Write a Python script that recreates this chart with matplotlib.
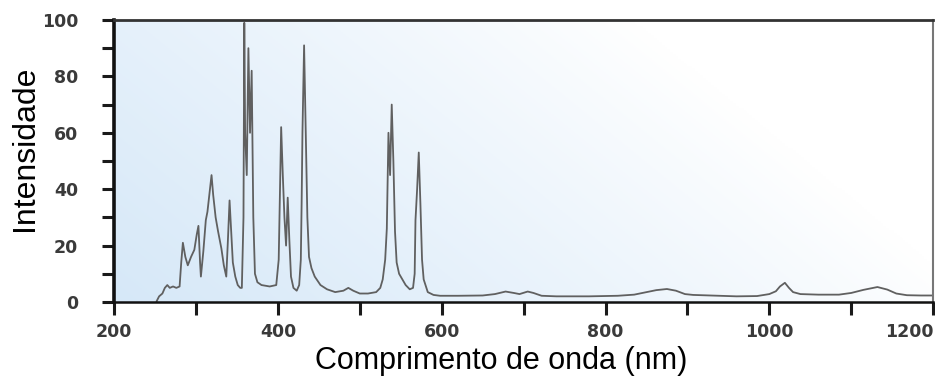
import matplotlib
matplotlib.use("Agg")
import matplotlib.pyplot as plt
import numpy as np

# spectrum (wavelength in nm, relative intensity)
wavelength = [252, 255, 259, 262, 265, 268, 272, 276, 280, 282, 284, 287, 290, 294, 298,
              301, 303, 305, 306, 309, 312, 314, 317, 319, 321, 324, 327, 331, 334, 337,
              339, 341, 343, 345, 348, 351, 354, 356, 358, 359, 360, 362, 364, 366, 368,
              370, 372, 375, 380, 390, 398, 401, 403, 404, 406, 408, 410, 412, 414, 416,
              419, 423, 426, 428, 429, 430, 432, 434, 436, 438, 441, 445, 452, 460, 470,
              480, 486, 492, 500, 510, 520, 525, 528, 531, 533, 535, 537, 539, 541, 543,
              545, 548, 552, 556, 561, 565, 567, 568, 570, 572, 574, 576, 578, 583, 590,
              598, 620, 650, 665, 678, 688, 695, 705, 712, 722, 740, 780, 815, 835, 850,
              862, 875, 886, 897, 907, 930, 960, 985, 1000, 1008, 1013, 1019, 1024, 1029,
              1038, 1060, 1085, 1100, 1115, 1132, 1144, 1155, 1168, 1185, 1200]
intensity = [0.3, 2.0, 3.0, 5.0, 6.0, 5.0, 5.5, 5.0, 5.5, 14, 21, 16, 13, 16, 18.5,
             24, 27, 14, 9, 18, 29, 32, 40, 45, 38, 30, 25, 19, 13, 9,
             22, 36, 25, 14, 9, 6, 5, 5, 30, 99, 60, 45, 90, 60, 82,
             30, 10, 7, 6, 5.5, 6, 15, 45, 62, 45, 30, 20, 37, 22, 9,
             5, 4, 6, 15, 35, 60, 91, 60, 30, 16, 12, 9, 6, 4.5, 3.5,
             4, 5, 4, 3, 3, 3.5, 5, 8, 15, 26, 60, 45, 70, 50, 25,
             14, 10, 8, 6, 4.5, 5, 10, 29, 40, 53, 35, 15, 8, 3.5, 2.5,
             2.2, 2.2, 2.3, 2.8, 3.7, 3.2, 2.8, 3.7, 3.2, 2.2, 2.0, 2.0, 2.2, 2.6, 3.5,
             4.2, 4.6, 4.0, 2.8, 2.5, 2.3, 2.0, 2.1, 2.8, 3.8, 5.5, 6.8, 5.0, 3.5,
             2.8, 2.6, 2.6, 3.2, 4.3, 5.3, 4.4, 3.0, 2.4, 2.3, 2.3]

x_major = [200, 400, 600, 800, 1000, 1200]
x_minor = [300, 500, 700, 900, 1100]
y_major = [0, 20, 40, 60, 80, 100]
y_minor = [10, 30, 50, 70, 90]

fig = plt.figure(figsize=(9.35, 3.77), dpi=100)
ax = fig.add_axes((0.122, 0.199, 0.876, 0.748))

# light blue wash fading towards the upper right
gx, gy = np.meshgrid(np.linspace(0, 1, 300), np.linspace(1, 0, 120))
t = np.clip(1.0 - (0.95 * gx + 0.4 * gy), 0, 1) ** 0.9
c0 = np.array([1.0, 1.0, 1.0])
c1 = np.array([214, 232, 248]) / 255.0
img = c0[None, None, :] * (1 - t[..., None]) + c1[None, None, :] * t[..., None]
ax.imshow(img, extent=(0, 1, 0, 1), transform=ax.transAxes, aspect='auto', zorder=0)

ax.plot(wavelength, intensity, color='#606060', lw=1.3, zorder=2)

ax.set_xlim(200, 1200)
ax.set_ylim(0, 100)

ax.set_xticks(x_major)
ax.set_xticks(x_minor, minor=True)
ax.set_yticks(y_major)
ax.set_yticks(y_minor, minor=True)
ax.set_yticklabels([str(v) for v in y_major])
ax.set_xticklabels([str(v) for v in x_major])
lbls = ax.get_xticklabels()
lbls[-1].set_horizontalalignment('right')

ax.tick_params(axis='both', which='both', direction='out', length=9, width=2.2,
               color='#1a1a1a')
ax.tick_params(axis='x', which='major', pad=6)
ax.tick_params(axis='y', which='major', pad=17)
for lab in ax.get_xticklabels() + ax.get_yticklabels():
    lab.set_fontsize(12.5)
    lab.set_fontweight('bold')
    lab.set_color('#3a3a3a')
    lab.set_family('DejaVu Sans')

ax.spines['left'].set_linewidth(2.6)
ax.spines['left'].set_color('#111111')
ax.spines['bottom'].set_linewidth(1.8)
ax.spines['bottom'].set_color('#111111')
ax.spines['top'].set_linewidth(2.0)
ax.spines['top'].set_color('#333333')
ax.spines['right'].set_linewidth(1.5)
ax.spines['right'].set_color('#777777')

fig.text(0.536, 0.022, 'Comprimento de onda (nm)', ha='center', va='baseline',
         fontsize=22, family='Liberation Sans', color='black')
fig.text(0.027, 0.607, 'Intensidade', ha='center', va='center', rotation=90,
         fontsize=23, family='Liberation Sans', color='black')

fig.savefig('out.png', dpi=100)
